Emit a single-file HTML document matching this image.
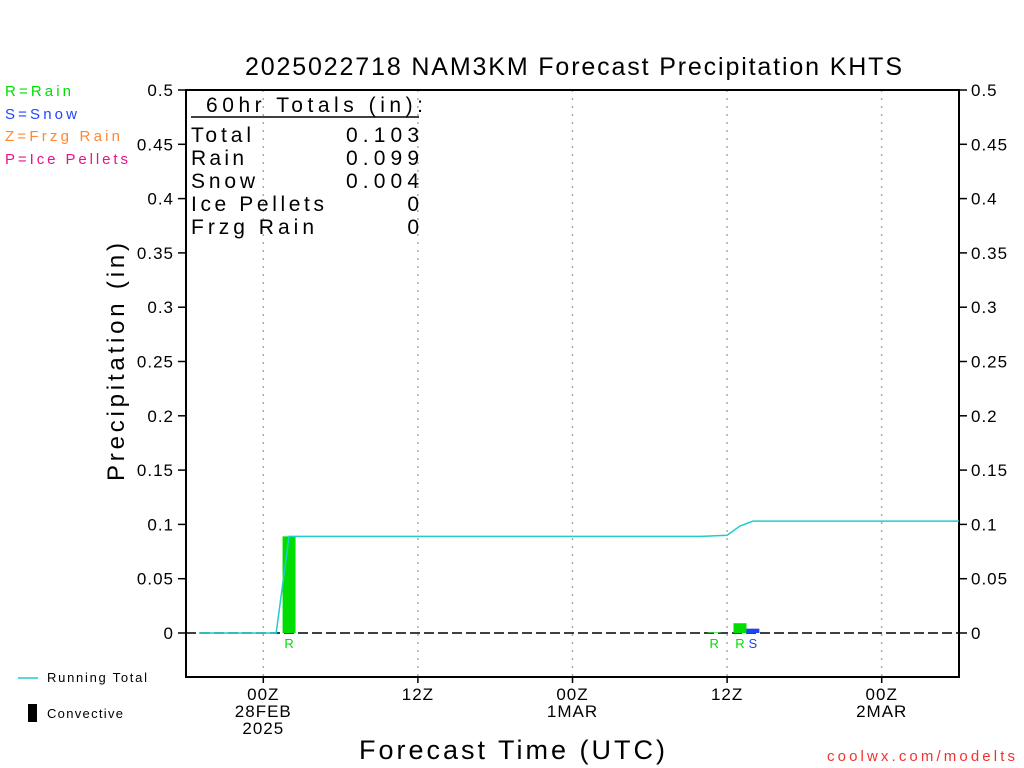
<!DOCTYPE html>
<html><head><meta charset="utf-8"><style>
body{margin:0;background:#fff;}
svg{display:block;font-family:"Liberation Sans",sans-serif;}
</style></head><body>
<svg id="c" width="1024" height="768" viewBox="0 0 1024 768">
<text x="245" y="75" font-size="25" textLength="657" lengthAdjust="spacing" fill="#000">2025022718 NAM3KM Forecast Precipitation KHTS</text>
<g font-size="15">
<text x="5" y="96" fill="#00dd00" textLength="66">R=Rain</text>
<text x="5" y="119" fill="#2244ff" textLength="72">S=Snow</text>
<text x="5" y="141" fill="#ff8833" textLength="115">Z=Frzg Rain</text>
<text x="5" y="164" fill="#ee1188" textLength="123">P=Ice Pellets</text>
</g>
<g id="grid"></g>
<rect x="186" y="90" width="773" height="587" fill="none" stroke="#000" stroke-width="2"/>
<g id="axes" font-size="17"></g>
<g font-size="21" fill="#000">
<text x="206" y="112" textLength="217">60hr Totals (in):</text>
<line x1="191" y1="117" x2="419" y2="117" stroke="#000" stroke-width="1.5"/>
<text x="191" y="142" textLength="60">Total</text><text x="346" y="142" textLength="73">0.103</text>
<text x="191" y="165" textLength="53">Rain</text><text x="346" y="165" textLength="73">0.099</text>
<text x="191" y="188" textLength="64">Snow</text><text x="346" y="188" textLength="73">0.004</text>
<text x="191" y="211" textLength="133">Ice Pellets</text><text x="419" y="211" text-anchor="end">0</text>
<text x="191" y="234" textLength="123">Frzg Rain</text><text x="419" y="234" text-anchor="end">0</text>
</g>
<g id="marks"></g>
<text transform="translate(124,481) rotate(-90)" font-size="24" textLength="238">Precipitation (in)</text>
<text x="359" y="759" font-size="27" textLength="306">Forecast Time (UTC)</text>
<line x1="18" y1="678" x2="38" y2="678" stroke="#22cccc" stroke-width="1.5"/>
<text x="47" y="682" font-size="13" textLength="100">Running Total</text>
<rect x="28" y="704" width="9" height="18" fill="#000"/>
<text x="47" y="718" font-size="13" textLength="76">Convective</text>
<text x="827" y="761" font-size="15" fill="#ee3333" textLength="188">coolwx.com/modelts</text>
</svg>
<script>
const yTicks=[0,0.05,0.1,0.15,0.2,0.25,0.3,0.35,0.4,0.45,0.5];
const xTickHours=[6,18,30,42,54];
const xTickLabels=[["00Z","28FEB","2025"],["12Z"],["00Z","1MAR"],["12Z"],["00Z","2MAR"]];
const rainHours=[8,41,43];
const rainValues=[0.089,0.0005,0.009];
const snowHours=[44];
const snowValues=[0.004];
const totalHours=[1,7,8,40,42,43,44,60];
const totalValues=[0,0,0.089,0.089,0.090,0.0985,0.103,0.103];
const NS="http://www.w3.org/2000/svg";
const X=h=>186+h*(773/60);
const Y=v=>633-v*1086;
function mk(t,a,p){const e=document.createElementNS(NS,t);for(const k in a)e.setAttribute(k,a[k]);p.appendChild(e);return e;}
const grid=document.getElementById('grid'),axes=document.getElementById('axes'),marks=document.getElementById('marks');
xTickHours.forEach((h,i)=>{
 const l=mk('line',{x1:X(h),x2:X(h),y1:90,y2:677,stroke:'#aaa','stroke-dasharray':'2,6','stroke-width':1.5},grid);
 
 
 mk('line',{x1:X(h),x2:X(h),y1:677,y2:683,stroke:'#000','stroke-width':1.5},axes);
 xTickLabels[i].forEach((s,j)=>{const t=mk('text',{x:X(h),y:700+j*17,'text-anchor':'middle','letter-spacing':'1'},axes);t.textContent=s;
 
 });
});
yTicks.forEach(v=>{
 mk('line',{x1:178,x2:186,y1:Y(v),y2:Y(v),stroke:'#000','stroke-width':1.5},axes);
 mk('line',{x1:959,x2:967,y1:Y(v),y2:Y(v),stroke:'#000','stroke-width':1.5},axes);
 const a=mk('text',{x:174,y:Y(v)+6,'text-anchor':'end','letter-spacing':'1'},axes);a.textContent=String(v);
 
 
 const b=mk('text',{x:971,y:Y(v)+6,'letter-spacing':'1'},axes);b.textContent=String(v);
 
 
});
const zl=mk('line',{x1:186,x2:959,y1:Y(0),y2:Y(0),stroke:'#000','stroke-width':1.5,'stroke-dasharray':'10,4'},marks);


function bars(hs,vs,col,lab,name){hs.forEach((h,i)=>{
 const r=mk('rect',{x:X(h)-6.5,y:Y(vs[i]),width:13,height:Y(0)-Y(vs[i]),fill:col},marks);
 
 
 const t=mk('text',{x:X(h),y:648,'text-anchor':'middle','font-size':13,fill:col},marks);t.textContent=lab;
 
 
});}
bars(rainHours,rainValues,'#00dd00','R','rain-bar');
bars(snowHours,snowValues,'#2244ee','S','snow-bar');
const pl=mk('polyline',{points:totalHours.map((h,i)=>X(h)+','+Y(totalValues[i])).join(' '),fill:'none',stroke:'#22cccc','stroke-width':1.5},marks);


</script>
</body></html>
